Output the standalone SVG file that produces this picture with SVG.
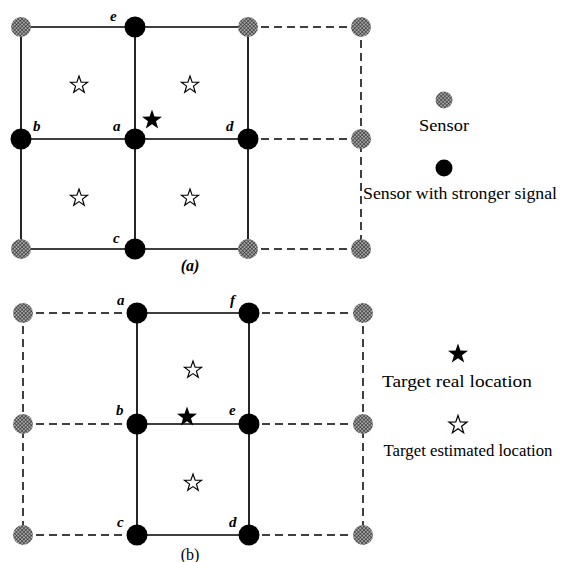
<svg xmlns="http://www.w3.org/2000/svg" width="561" height="562" viewBox="0 0 561 562">
  <defs>
    <!-- cross-hatched fill for ordinary sensors -->
    <pattern id="hatch" width="2.6" height="2.6" patternUnits="userSpaceOnUse" patternTransform="rotate(45)">
      <rect width="2.6" height="2.6" fill="#a8a8a8"/>
      <line x1="0" y1="0" x2="0" y2="2.6" stroke="#111" stroke-width="1"/>
      <line x1="0" y1="0" x2="2.6" y2="0" stroke="#111" stroke-width="0.9"/>
    </pattern>
    <path id="star" d="M0,-10 L2.35,-3.24 9.51,-3.09 3.8,1.24 5.88,8.09 0,4 -5.88,8.09 -3.8,1.24 -9.51,-3.09 -2.35,-3.24 Z"/>
  </defs>
  <style>
    .solid { stroke:#000; stroke-width:1.7; fill:none; }
    .dash { stroke:#000; stroke-width:1.5; fill:none; stroke-dasharray:8 5; }
    .sensor { fill:url(#hatch); }
    .strong { fill:#000; }
    .est { fill:#fff; stroke:#000; stroke-width:1.3; }
    .real { fill:#000; }
    .lbl { font-family:"Liberation Serif", "Times New Roman", serif; font-style:italic; font-weight:bold; font-size:15px; fill:#000; }
    .cap { font-family:"Liberation Serif", "Times New Roman", serif; font-size:16px; fill:#000; text-anchor:middle; }
    .leg { font-family:"Liberation Serif", "Times New Roman", serif; font-size:16.5px; fill:#000; text-anchor:middle; }
  </style>

  <rect width="561" height="562" fill="#fff"/>

  <!-- Connectors -->
  <g id="connectors">
    <!-- panel (a) -->
    <path class="solid" d="M21,27 H248 M21,139 H248 M21,249 H248 M21,27 V249 M135,27 V249 M248,27 V249"/>
    <path class="dash" d="M248,27 H361 M248,139 H361 M248,249 H361 M361,27 V249"/>
    <!-- panel (b) -->
    <path class="solid" d="M137,313 H249 M137,424 H249 M137,535 H249 M137,313 V535 M249,313 V535"/>
    <path class="dash" d="M23,313 H137 M23,424 H137 M23,535 H137 M249,313 H363 M249,424 H363 M249,535 H363 M23,313 V535 M363,313 V535"/>
  </g>

  <!-- Panel (a) sensors -->
  <g id="a-s11"><circle class="sensor" cx="21" cy="27" r="10"/></g>
  <g id="a-e"><circle class="strong" cx="135" cy="27" r="10.5"/><text class="lbl" x="110" y="21">e</text></g>
  <g id="a-s13"><circle class="sensor" cx="248" cy="27" r="10"/></g>
  <g id="a-s14"><circle class="sensor" cx="361" cy="27" r="10"/></g>
  <g id="a-b"><circle class="strong" cx="21" cy="139" r="10.5"/><text class="lbl" x="33" y="131">b</text></g>
  <g id="a-a"><circle class="strong" cx="135" cy="139" r="10.5"/><text class="lbl" x="113" y="131">a</text></g>
  <g id="a-d"><circle class="strong" cx="248" cy="139" r="10.5"/><text class="lbl" x="226" y="131">d</text></g>
  <g id="a-s24"><circle class="sensor" cx="361" cy="139" r="10"/></g>
  <g id="a-s31"><circle class="sensor" cx="21" cy="249" r="10"/></g>
  <g id="a-c"><circle class="strong" cx="135" cy="249" r="10.5"/><text class="lbl" x="113" y="243">c</text></g>
  <g id="a-s33"><circle class="sensor" cx="248" cy="249" r="10"/></g>
  <g id="a-s34"><circle class="sensor" cx="361" cy="249" r="10"/></g>

  <!-- Panel (a) targets -->
  <g id="a-targets">
    <use href="#star" class="est" transform="translate(79,85) scale(0.9)"/>
    <use href="#star" class="est" transform="translate(190,85) scale(0.9)"/>
    <use href="#star" class="est" transform="translate(79,198) scale(0.9)"/>
    <use href="#star" class="est" transform="translate(190,198) scale(0.9)"/>
    <use href="#star" class="real" transform="translate(152,120) scale(1.05)"/>
  </g>
  <text class="cap" x="190" y="271" font-style="italic" font-weight="bold">(a)</text>

  <!-- Panel (a) legend -->
  <g id="legend-a">
    <circle class="sensor" cx="444" cy="100" r="8.5"/>
    <text class="leg" x="444" y="131" textLength="50" lengthAdjust="spacingAndGlyphs">Sensor</text>
    <circle class="strong" cx="444" cy="168" r="8.5"/>
    <text class="leg" x="460" y="199" textLength="194" lengthAdjust="spacingAndGlyphs">Sensor with stronger signal</text>
  </g>

  <!-- Panel (b) sensors -->
  <g id="b-s11"><circle class="sensor" cx="23" cy="313" r="10"/></g>
  <g id="b-a"><circle class="strong" cx="137" cy="313" r="10.5"/><text class="lbl" x="117" y="305">a</text></g>
  <g id="b-f"><circle class="strong" cx="249" cy="313" r="10.5"/><text class="lbl" x="230" y="305">f</text></g>
  <g id="b-s14"><circle class="sensor" cx="363" cy="313" r="10"/></g>
  <g id="b-s21"><circle class="sensor" cx="23" cy="424" r="10"/></g>
  <g id="b-b"><circle class="strong" cx="137" cy="424" r="10.5"/><text class="lbl" x="116" y="415">b</text></g>
  <g id="b-e"><circle class="strong" cx="249" cy="424" r="10.5"/><text class="lbl" x="229" y="415">e</text></g>
  <g id="b-s24"><circle class="sensor" cx="363" cy="424" r="10"/></g>
  <g id="b-s31"><circle class="sensor" cx="23" cy="535" r="10"/></g>
  <g id="b-c"><circle class="strong" cx="137" cy="535" r="10.5"/><text class="lbl" x="117" y="527">c</text></g>
  <g id="b-d"><circle class="strong" cx="249" cy="535" r="10.5"/><text class="lbl" x="229" y="527">d</text></g>
  <g id="b-s34"><circle class="sensor" cx="363" cy="535" r="10"/></g>

  <!-- Panel (b) targets -->
  <g id="b-targets">
    <use href="#star" class="est" transform="translate(193,370) scale(0.9)"/>
    <use href="#star" class="est" transform="translate(193,483) scale(0.9)"/>
    <use href="#star" class="real" transform="translate(187,417) scale(1.05)"/>
  </g>
  <text class="cap" x="190" y="560">(b)</text>

  <!-- Panel (b) legend -->
  <g id="legend-b">
    <use href="#star" class="real" transform="translate(458,354) scale(1.05)"/>
    <text class="leg" x="457" y="387" textLength="150" lengthAdjust="spacingAndGlyphs">Target real location</text>
    <use href="#star" class="est" transform="translate(458,425) scale(0.95)"/>
    <text class="leg" x="468" y="456" textLength="169" lengthAdjust="spacingAndGlyphs">Target estimated location</text>
  </g>
</svg>
